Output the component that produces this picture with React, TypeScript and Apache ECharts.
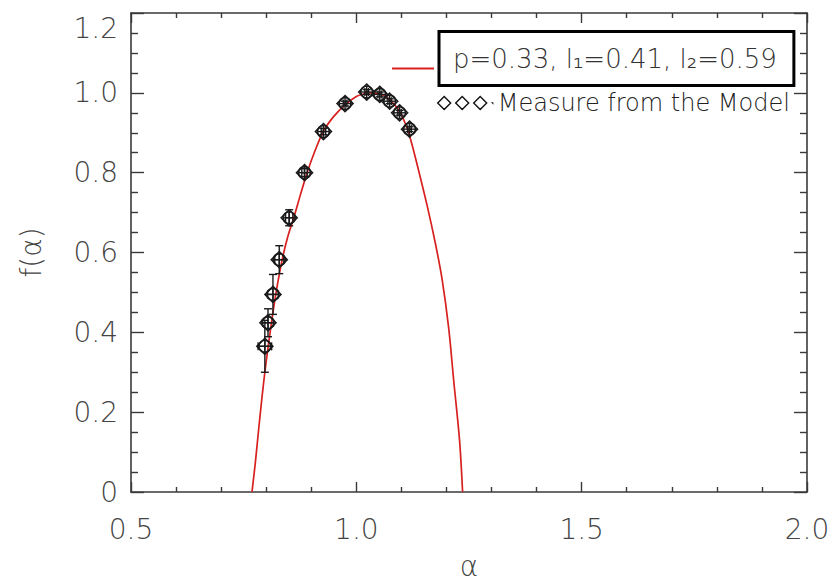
import React, { useEffect, useRef } from "react";
import * as echarts from "echarts";

// Model curve f(alpha)
const curveAlpha = [0.7685, 0.776, 0.783, 0.79, 0.797, 0.805, 0.815, 0.825, 0.836, 0.848, 0.862, 0.876, 0.89, 0.905, 0.927, 0.95, 0.975, 1.0, 1.016, 1.031, 1.053, 1.068, 1.09, 1.108, 1.12, 1.135, 1.157, 1.175, 1.19, 1.205, 1.216, 1.229, 1.2358];
const curveF = [0, 0.075, 0.154, 0.23, 0.3, 0.37, 0.45, 0.52, 0.585, 0.64, 0.69, 0.745, 0.797, 0.845, 0.904, 0.941, 0.97, 0.991, 0.997, 1.0, 0.997, 0.988, 0.963, 0.925, 0.885, 0.82, 0.718, 0.625, 0.535, 0.41, 0.28, 0.13, 0];

// Measured points with error bars
const pointAlpha = [0.797, 0.804, 0.815, 0.829, 0.851, 0.885, 0.927, 0.975, 1.023, 1.052, 1.074, 1.096, 1.118];
const pointF = [0.365, 0.424, 0.495, 0.582, 0.687, 0.8, 0.903, 0.973, 1.002, 0.996, 0.979, 0.95, 0.909];
const errF = [0.065, 0.035, 0.05, 0.035, 0.02, 0.01, 0.008, 0.006, 0.006, 0.006, 0.006, 0.006, 0.006];
const errAlpha = [0.015, 0.012, 0.012, 0.01, 0.008, 0.006, 0.005, 0.004, 0.004, 0.004, 0.004, 0.004, 0.004];

const yLabelValues = [0, 0.2, 0.4, 0.6, 0.8, 1.0, 1.16];

const modelName = "p=0.33, l\u2081=0.41, l\u2082=0.59";
const measureName = "Measure from the Model";

const FONT = "DejaVu Sans";
const FW = 200;
const AX = "#3a3a3a";
const TXT = "#444";
const RED = "#d82020";
const MK = "#1a1a1a";

export default function App() {
  const ref = useRef<HTMLDivElement>(null);
  useEffect(() => {
    document.body.style.margin = "0";
    const chart = echarts.init(ref.current!, null, { renderer: "svg" });
    const curveData = curveAlpha.map((a, i) => [a, curveF[i]]);
    const pointData = pointAlpha.map((a, i) => [a, pointF[i], errAlpha[i], errF[i]]);

    const axisLine = { show: true, onZero: false, lineStyle: { color: AX, width: 1.6 } };
    const xCommon = {
      type: "value",
      min: 0.5,
      max: 2.0,
      interval: 0.5,
      splitLine: { show: false },
      axisLine,
      axisTick: { show: true, inside: true, length: 10, lineStyle: { color: AX, width: 1.4 } },
      minorTick: { show: true, splitNumber: 5, length: 5, lineStyle: { color: AX, width: 1.4 } },
      minorSplitLine: { show: false },
    };
    const yCommon = {
      type: "value",
      min: 0,
      max: 1.2,
      interval: 0.2,
      splitLine: { show: false },
      axisLine,
      axisTick: { show: true, inside: true, length: 13, lineStyle: { color: AX, width: 1.4 } },
      minorTick: { show: true, splitNumber: 4, length: 7, lineStyle: { color: AX, width: 1.4 } },
      minorSplitLine: { show: false },
    };

    const option: any = {
      animation: false,
      backgroundColor: "#fff",
      textStyle: { fontFamily: FONT },
      grid: { left: 131, right: 29, top: 13, bottom: 89, containLabel: false, outerBoundsMode: "none" },
      xAxis: [
        {
          ...xCommon,
          position: "bottom",
          name: "\u03b1",
          nameLocation: "middle",
          nameGap: 60,
          nameTextStyle: { fontSize: 28, color: TXT, fontFamily: FONT, fontWeight: FW },
          axisLabel: {
            show: true,
            fontSize: 28,
            color: TXT,
            fontFamily: FONT,
            fontWeight: FW,
            margin: 23,
            formatter: (v: number) => v.toFixed(1),
          },
        },
        { ...xCommon, position: "top", axisLabel: { show: false } },
      ],
      yAxis: [
        {
          ...yCommon,
          position: "left",
          name: "f(\u03b1)",
          nameLocation: "middle",
          nameGap: 86,
          nameTextStyle: { fontSize: 28, color: TXT, fontFamily: FONT, fontWeight: FW },
          axisLabel: {
            show: true,
            fontSize: 28,
            color: TXT,
            fontFamily: FONT,
            fontWeight: FW,
            margin: 13,
            customValues: yLabelValues,
            formatter: (v: number) => (v === 0 ? "0" : v > 1.1 ? "1.2" : v.toFixed(1)),
          },
        },
        { ...yCommon, position: "right", axisLabel: { show: false } },
      ],
      legend: [
        {
          data: [
            {
              name: modelName,
              icon: "path://M0 0 L0.01 0 L0.01 0.01 Z M0 20 L42 20 L42 22 L0 22 Z",
            },
          ],
          left: 392,
          top: 30,
          padding: 0,
          itemWidth: 42,
          itemHeight: 22,
          selectedMode: false,
          itemStyle: { color: RED },
          textStyle: {
            fontFamily: FONT,
            fontWeight: FW,
            fontSize: 26,
            color: "#333",
            lineHeight: 26,
            borderColor: "#000",
            borderWidth: 3,
            padding: [17, 17, 11, 14],
          },
        },
        {
          data: [
            {
              name: measureName,
              icon:
                "path://M6.5 0 L13 6.5 L6.5 13 L0 6.5 Z M24.5 0 L31 6.5 L24.5 13 L18 6.5 Z M42.5 0 L49 6.5 L42.5 13 L36 6.5 Z M55 6.5 L55.01 6.5 L55.01 6.51 Z",
            },
          ],
          left: 437,
          top: 91,
          padding: 0,
          itemWidth: 55,
          itemHeight: 13,
          selectedMode: false,
          itemStyle: { color: "rgba(0,0,0,0)", borderColor: "#111", borderWidth: 1.4 },
          textStyle: { fontFamily: FONT, fontWeight: FW, fontSize: 24, color: "#222" },
        },
      ],
      series: [
        {
          name: modelName,
          type: "line",
          data: curveData,
          smooth: 0.3,
          showSymbol: false,
          symbol: "none",
          lineStyle: { color: RED, width: 1.7 },
          itemStyle: { color: RED },
          clip: true,
          z: 2,
        },
        {
          name: measureName,
          type: "custom",
          data: pointData,
          itemStyle: { color: MK },
          z: 3,
          encode: { x: 0, y: 1 },
          renderItem: (params: any, api: any) => {
            const a = api.value(0);
            const f = api.value(1);
            const ea = api.value(2);
            const ef = api.value(3);
            const c = api.coord([a, f]);
            const top = api.coord([a, f + ef]);
            const bot = api.coord([a, f - ef]);
            const lft = api.coord([a - ea, f]);
            const rgt = api.coord([a + ea, f]);
            const st = { stroke: MK, lineWidth: 1.4, fill: "none" };
            const cap = 4;
            const r = 6;
            const d = 8;
            const children: any[] = [
              { type: "line", shape: { x1: top[0], y1: top[1], x2: bot[0], y2: bot[1] }, style: st },
              { type: "line", shape: { x1: top[0] - cap, y1: top[1], x2: top[0] + cap, y2: top[1] }, style: st },
              { type: "line", shape: { x1: bot[0] - cap, y1: bot[1], x2: bot[0] + cap, y2: bot[1] }, style: st },
              { type: "line", shape: { x1: lft[0], y1: lft[1], x2: rgt[0], y2: rgt[1] }, style: st },
              { type: "line", shape: { x1: lft[0], y1: lft[1] - cap, x2: lft[0], y2: lft[1] + cap }, style: st },
              { type: "line", shape: { x1: rgt[0], y1: rgt[1] - cap, x2: rgt[0], y2: rgt[1] + cap }, style: st },
              { type: "circle", shape: { cx: c[0], cy: c[1], r }, style: { ...st, lineWidth: 1.6 } },
              { type: "line", shape: { x1: c[0] - r, y1: c[1], x2: c[0] + r, y2: c[1] }, style: st },
              { type: "line", shape: { x1: c[0], y1: c[1] - r, x2: c[0], y2: c[1] + r }, style: st },
              {
                type: "polygon",
                shape: { points: [[c[0], c[1] - d], [c[0] + d, c[1]], [c[0], c[1] + d], [c[0] - d, c[1]]] },
                style: { ...st, lineWidth: 1.6 },
              },
            ];
            return { type: "group", children };
          },
        },
      ],
    };
    chart.setOption(option);
    return () => chart.dispose();
  }, []);
  return <div ref={ref} style={{ width: 836, height: 581 }} />;
}
